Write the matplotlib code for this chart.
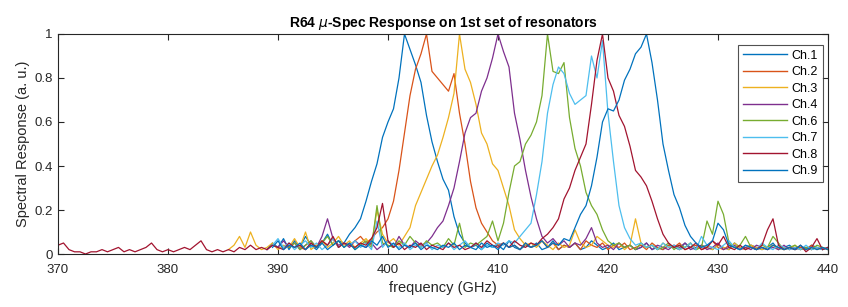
import matplotlib
matplotlib.use("Agg")
import matplotlib.pyplot as plt
from matplotlib.ticker import FormatStrFormatter
import numpy as np

plt.rcParams['font.family'] = ['Liberation Sans', 'DejaVu Sans']

step = 0.5

ch1_start = 389.0
ch1 = [.02, .05, .03, .07, .02, .06, .03, .08, .04, .02, .05, .09, .04, .06, .05, .09,
       .12, .16, .24, .33, .41, .53, .60, .66, .80, 1.0, .93, .86, .78, .63, .51, .42,
       .34, .29, .17, .09, .05, .03, .04, .02, .05, .03, .04, .02, .06, .03, .02, .04,
       .03, .05, .02, .03, .06, .02, .04, .03, .05, .02, .03, .06, .04, .02, .03, .05,
       .02, .03, .04, .02, .03, .05, .02, .03, .02, .04, .03, .02, .05, .03, .02, .04,
       .03, .02, .04, .03, .02, .05, .03, .02, .04, .03, .02, .03, .05, .02, .03, .04,
       .02, .03, .02, .04, .03, .02, .03]

ch2_start = 392.0
ch2 = [.03, .02, .05, .03, .06, .04, .07, .03, .05, .04, .06, .08, .05, .07, .10, .12,
       .16, .24, .38, .55, .72, .84, .91, 1.0, .83, .80, .77, .74, .82, .64, .50, .33,
       .21, .14, .10, .06, .04, .05, .03, .04, .02, .05, .03, .04, .06, .03, .05, .02,
       .04, .03, .05, .02, .06, .04, .03, .05, .02, .04, .03, .05, .02, .03, .04, .02,
       .05, .03, .02, .04, .03, .05, .02, .03, .04, .02, .03, .06, .03, .02, .04, .03,
       .02, .03, .04, .02, .03, .02, .04, .03, .02, .03, .02, .03, .02, .04, .02, .03,
       .02]

ch3_start = 385.5
ch3 = [.02, .04, .08, .03, .10, .04, .02, .03, .05, .02, .04, .03, .07, .03, .10, .02,
       .04, .06, .03, .05, .08, .04, .06, .03, .05, .07, .04, .20, .09, .05, .07, .04,
       .08, .12, .22, .28, .34, .40, .45, .53, .62, .73, 1.0, .84, .78, .68, .55, .50,
       .41, .38, .30, .22, .11, .07, .04, .05, .03, .06, .04, .02, .05, .03, .04, .11,
       .05, .03, .04, .08, .06, .04, .03, .05, .02, .04, .16, .05, .03, .04, .02, .05,
       .03, .04, .02, .03, .05, .02, .04, .03, .02, .04, .03, .02, .05, .03, .02, .04,
       .03, .02, .03, .04, .02, .03, .02, .04, .02, .03, .02, .03, .02]

ch4_start = 389.0
ch4 = [.02, .04, .03, .06, .03, .05, .02, .04, .06, .03, .08, .16, .07, .04, .05, .03,
       .06, .04, .03, .05, .02, .04, .06, .03, .08, .04, .03, .06, .04, .05, .08, .12,
       .15, .22, .30, .42, .55, .62, .64, .74, .80, .89, 1.0, .92, .85, .64, .52, .38,
       .26, .16, .08, .05, .07, .04, .06, .03, .05, .04, .07, .12, .05, .03, .04, .02,
       .05, .03, .04, .02, .03, .05, .02, .04, .03, .02, .04, .03, .05, .02, .03, .04,
       .02, .03, .05, .02, .03, .04, .02, .03, .02, .04, .03, .02, .03, .02, .04, .02,
       .03, .02, .03, .02, .03, .02, .03]

ch6_start = 391.0
ch6 = [.03, .05, .02, .04, .06, .03, .05, .08, .04, .06, .03, .05, .02, .04, .06, .03,
       .22, .05, .04, .03, .06, .04, .08, .05, .03, .06, .04, .05, .03, .07, .04, .14,
       .03, .05, .04, .06, .08, .15, .06, .14, .28, .40, .42, .50, .54, .60, .72, 1.0,
       .83, .82, .87, .62, .48, .40, .28, .22, .18, .11, .06, .04, .05, .03, .04, .02,
       .05, .03, .04, .02, .03, .05, .02, .04, .03, .05, .02, .03, .15, .09, .24, .18,
       .05, .03, .04, .08, .03, .02, .04, .03, .08, .05, .02, .03, .04, .02, .03, .02,
       .04, .03, .02, .03]

ch7_start = 389.5
ch7 = [.04, .07, .03, .05, .02, .04, .06, .03, .05, .02, .04, .07, .03, .05, .04, .06,
       .03, .05, .02, .15, .03, .06, .04, .03, .05, .02, .04, .03, .05, .02, .04, .03,
       .05, .02, .04, .06, .03, .05, .02, .04, .03, .05, .04, .06, .05, .08, .11, .14,
       .27, .42, .64, .77, .85, .82, .73, .68, .70, .72, .90, .80, .97, .64, .42, .22,
       .12, .07, .04, .05, .03, .04, .02, .05, .03, .04, .02, .03, .05, .02, .08, .04,
       .03, .02, .04, .06, .03, .02, .04, .03, .02, .05, .03, .02, .04, .03, .02, .03,
       .02, .04, .02, .03, .02, .03]

ch8_start = 370.0
ch8 = [.04, .05, .02, .01, .01, .00, .01, .01, .02, .01, .02, .03, .01, .02, .01, .02,
       .03, .05, .02, .01, .02, .01, .02, .03, .02, .04, .06, .02, .01, .02, .01, .02,
       .01, .03, .02, .04, .02, .03, .02, .04, .03, .02, .05, .03, .04, .02, .05, .03,
       .06, .04, .08, .03, .05, .04, .03, .05, .04, .07, .12, .23, .06, .03, .05, .02,
       .04, .03, .05, .02, .04, .03, .02, .05, .03, .04, .02, .03, .05, .03, .06, .04,
       .03, .05, .03, .06, .04, .03, .05, .04, .07, .09, .12, .16, .25, .30, .38, .44,
       .50, .68, .88, 1.0, .80, .74, .63, .58, .49, .38, .35, .31, .24, .16, .09, .05,
       .03, .04, .02, .03, .05, .02, .03, .06, .04, .08, .03, .02, .04, .02, .03, .02,
       .04, .11, .16, .04, .02, .03, .02, .04, .01, .03, .07, .02, .03]

ch9_start = 389.5
ch9 = [.03, .06, .02, .04, .03, .05, .02, .04, .03, .05, .02, .04, .06, .03, .05, .02,
       .04, .03, .06, .04, .08, .03, .05, .02, .04, .03, .05, .02, .04, .03, .02, .04,
       .03, .05, .02, .04, .03, .02, .05, .03, .04, .02, .05, .03, .04, .02, .05, .03,
       .04, .06, .03, .05, .04, .07, .06, .12, .18, .22, .31, .44, .60, .66, .65, .70,
       .79, .84, .91, .94, 1.0, .87, .70, .50, .38, .27, .21, .13, .08, .05, .03, .04,
       .06, .14, .11, .04, .03, .02, .04, .03, .02, .03, .02, .04, .03, .02, .03, .02,
       .04, .02, .03, .02, .03, .02]

labels = ['Ch.1', 'Ch.2', 'Ch.3', 'Ch.4', 'Ch.6', 'Ch.7', 'Ch.8', 'Ch.9']
starts = [ch1_start, ch2_start, ch3_start, ch4_start, ch6_start, ch7_start, ch8_start, ch9_start]
series = [ch1, ch2, ch3, ch4, ch6, ch7, ch8, ch9]
colors = ['#0072BD', '#D95319', '#EDB120', '#7E2F8E', '#77AC30', '#4DBEEE', '#A2142F', '#0072BD']

fig = plt.figure(figsize=(8.48, 3.07), dpi=100)
ax = fig.add_axes([0.0684, 0.1726, 0.9080, 0.7167])

for lab, s0, vals, c in zip(labels, starts, series, colors):
    freq = s0 + step * np.arange(len(vals))
    ax.plot(freq, vals, color=c, lw=0.9, label=lab)

ax.set_xlim(370, 440)
ax.set_ylim(0, 1)
ax.set_xticks(np.arange(370, 441, 10))
ax.set_yticks(np.arange(0, 1.01, 0.2))
ax.yaxis.set_major_formatter(FormatStrFormatter('%g'))
ax.tick_params(direction='in', top=True, right=True, length=4, width=0.8,
               labelsize=9.5, colors='#262626')
ax.tick_params(axis='x', pad=7)
ax.tick_params(axis='y', pad=4)
for sp in ax.spines.values():
    sp.set_color('#262626')
    sp.set_linewidth(0.8)

ax.set_title(r'R64 $\mu$-Spec Response on 1st set of resonators', fontsize=10,
             fontweight='bold', pad=5)
ax.set_xlabel('frequency (GHz)', fontsize=10.5, color='#262626', labelpad=4)
ax.set_ylabel('Spectral Response (a. u.)', fontsize=10.5, color='#262626', labelpad=3)

leg = ax.legend(loc='upper right', bbox_to_anchor=(0.993, 0.952), fontsize=9,
                frameon=True, fancybox=False, handlelength=3.5, handletextpad=0.35,
                labelspacing=0.36, borderpad=0.4, borderaxespad=0)
leg.get_frame().set_edgecolor('#262626')
leg.get_frame().set_linewidth(0.8)
for line in leg.get_lines():
    line.set_linewidth(1.0)

plt.savefig('out.png', dpi=100)
